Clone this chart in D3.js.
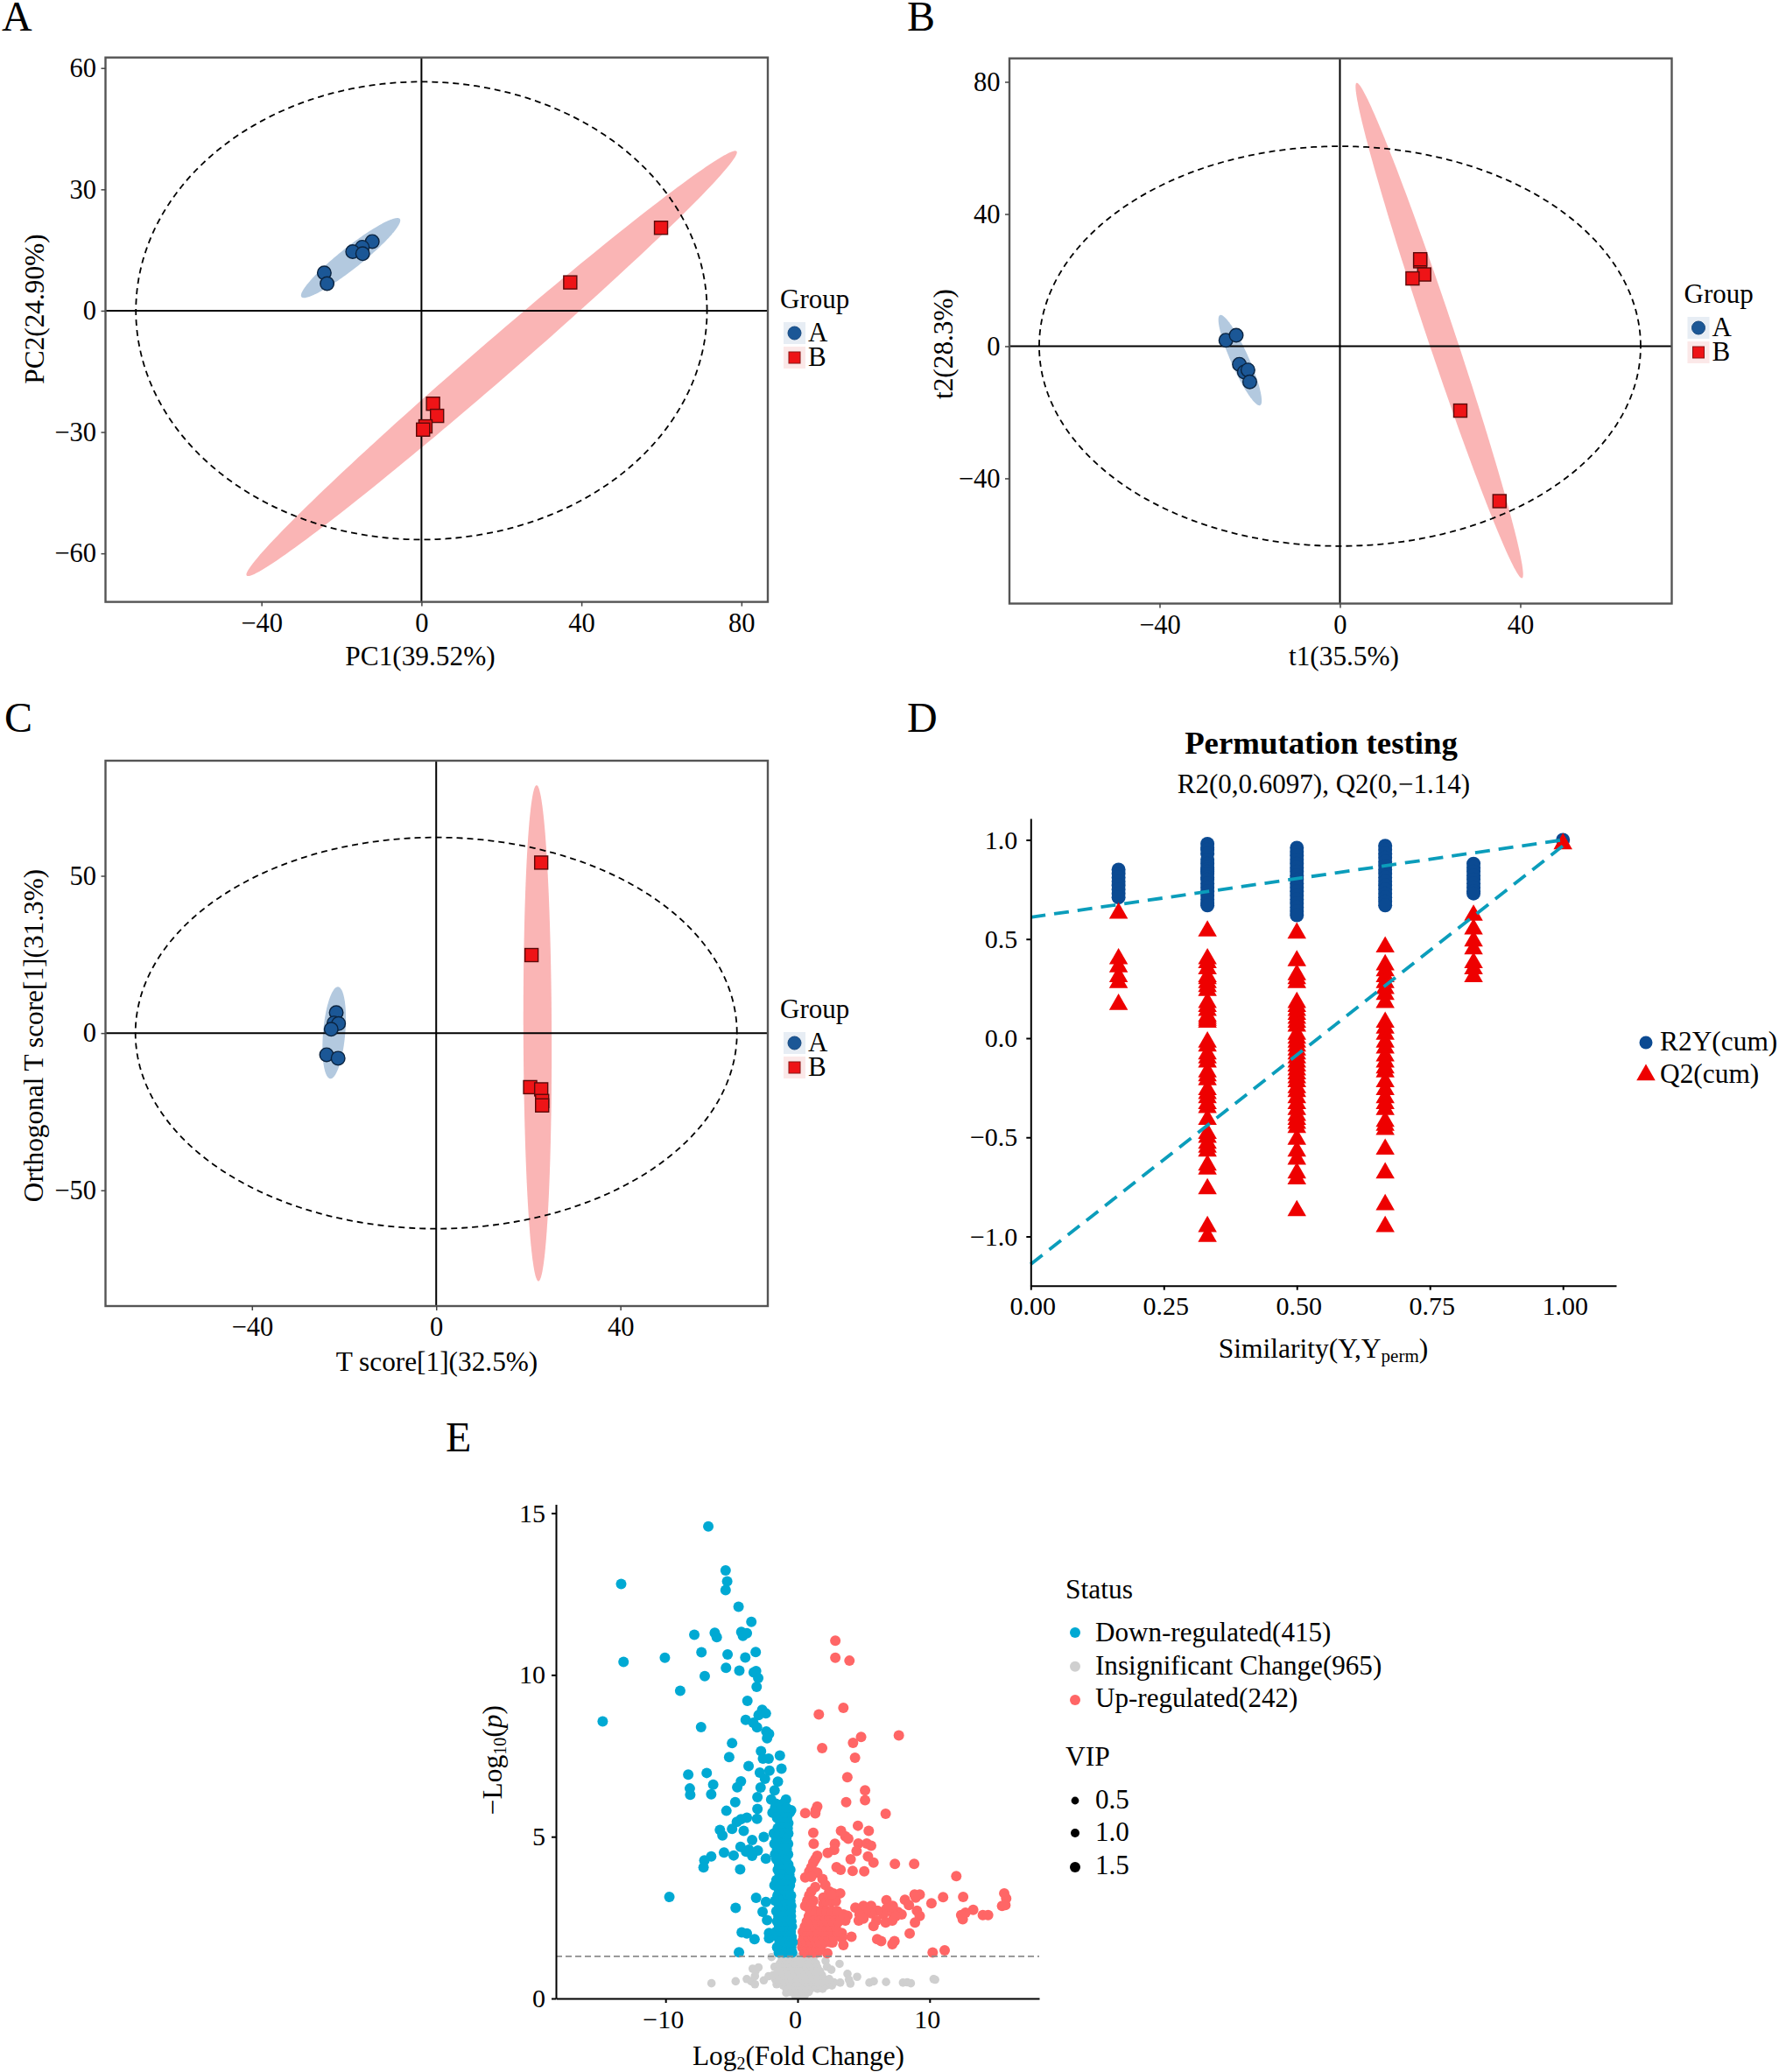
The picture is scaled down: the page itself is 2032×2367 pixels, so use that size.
<!DOCTYPE html>
<html><head><meta charset="utf-8">
<script src="https://cdn.jsdelivr.net/npm/d3@7"></script>
<style>
html,body{margin:0;padding:0;background:#fff}
svg{display:block}
text{font-family:"Liberation Serif","Times New Roman",serif;fill:#000}
</style></head><body>
<script>
// ---------- Panel A
const pcaA = [[-12.3,17.1],[-14.8,15.7],[-17.2,14.6],[-14.7,14.1],[-24.3,9.35],[-23.6,6.7]];
const pcaB = [[59.9,20.5],[37.2,7.0],[2.9,-23],[3.9,-26],[1.0,-28.6],[0.4,-29.4]];
const pcaEllA = [[-30,3.4],[-5.4,22.7]], pcaEllB = [[-43.7,-65.5],[78.8,39.4]];
const pcaHot = [71.4,56.6];
// ---------- Panel B
const plsA = [[-25.3,1.8],[-23,3.3],[-22.3,-5.5],[-21.2,-7.8],[-20.4,-7.2],[-20,-10.8]];
const plsB = [[17.8,25.7],[17.8,26.3],[18.7,21.7],[16.1,20.5],[26.7,-19.5],[35.4,-46.9]];
const plsEllA = [[-26.6,9.4],[-17.7,-17.9]], plsEllB = [[3.7,79.7],[40.4,-70.2]];
const plsHot = [66.7,60.5];
// ---------- Panel C
const oplsA = [[-21.7,6.5],[-22.2,3.2],[-21.2,3.0],[-22.8,1.2],[-23.8,-6.9],[-21.3,-8.0]];
const oplsB = [[22.8,54.2],[20.7,24.8],[20.4,-17.2],[22.8,-17.9],[23,-21.6],[23,-23]];
const oplsEllA = [[-21.3,14.7],[-23,-14.5]], oplsEllB = [[21.8,78.8],[22.2,-78.9]];
const oplsHot = [65.3,62.2];
// ---------- Panel D
const similarity = [.165,.332,.5,.666,.832,1];
const r2yValues = [
 [.85,.83,.81,.79,.77,.75,.73,.71],
 [.98,.96,.95,.93,.90,.88,.86,.85,.84,.83,.81,.80,.78,.76,.74,.72,.70,.68,.67],
 [.96,.94,.92,.90,.88,.86,.84,.82,.80,.78,.76,.74,.72,.70,.68,.66,.64,.62],
 [.97,.95,.93,.91,.89,.87,.85,.83,.81,.79,.77,.75,.73,.71,.69,.67],
 [.88,.86,.84,.82,.80,.78,.76,.74,.73],
 [1.0]];
const q2Values = [
 [.63,.40,.36,.31,.28,.17],
 [.54,.40,.38,.35,.31,.30,.28,.26,.24,.18,.16,.14,.11,.10,.09,.08,-.02,-.04,-.08,-.10,-.12,-.17,-.19,-.21,-.26,-.28,-.30,-.33,-.35,-.41,-.48,-.50,-.53,-.55,-.57,-.64,-.66,-.76,-.95,-1.0],
 [.53,.39,.32,.30,.28,.18,.16,.14,.12,.10,.08,.06,.02,0,-.02,-.04,-.06,-.08,-.10,-.12,-.14,-.16,-.18,-.20,-.22,-.25,-.27,-.30,-.33,-.36,-.39,-.41,-.43,-.45,-.51,-.57,-.61,-.68,-.71,-.87],
 [.46,.37,.34,.31,.28,.25,.22,.18,.08,.05,.02,-.02,-.05,-.09,-.12,-.15,-.17,-.22,-.26,-.30,-.33,-.36,-.42,-.44,-.46,-.56,-.68,-.84,-.95],
 [.62,.55,.49,.45,.38,.35,.31],
 [.98]];
const r2Line = [[0,.6097],[1,1]], q2Line = [[0,-1.14],[1,.97]];
// ---------- Panel E
const downPoints = [[-6.76,14.59],[-5.45,13.23],[-5.33,12.89],[-5.45,12.62],[-13.36,12.81],[-4.47,12.11],[-3.5,11.64],[-7.82,11.24],[-6.27,11.3],[-6.12,11.17],[-4.26,11.33],[-4.14,11.21],[-3.84,11.29],[-7.28,10.7],[-5.3,10.63],[-3.17,10.71],[-3.96,10.54],[-10.05,10.53],[-13.18,10.4],[-5.42,10.22],[-4.41,10.13],[-7.03,9.96],[-3.32,10.08],[-3.14,10.12],[-2.98,9.9],[-3.1,9.63],[-8.89,9.51],[-3.8,9.2],[-14.76,8.56],[-2.68,8.92],[-2.95,8.76],[-2.4,8.81],[-3.93,8.61],[-3.35,8.52],[-3.07,8.38],[-7.31,8.39],[-2.37,8.25],[-2.16,8.18],[-2.31,8.04],[-4.96,7.89],[-2.77,7.64],[-5.18,7.46],[-2.62,7.41],[-2.19,7.41],[-1.34,7.51],[-3.71,7.18],[-1.22,7.1],[-2.13,7.04],[-2.86,6.98],[-8.28,6.92],[-6.88,6.97],[-2.47,6.79],[-1.49,6.7],[-4.29,6.71],[-4.57,6.53],[-2.8,6.52],[-6.39,6.61],[-8.16,6.49],[-1.74,6.43],[-8.13,6.3],[-6.54,6.31],[-3.04,6.22],[-2.0,6.15],[-.88,6.15],[-4.72,6.07],[-1.64,6.02],[-1.10,6.02],[-3.04,5.86],[-5.39,5.8],[-.49,5.82],[-3.84,5.59],[-4.29,5.54],[-4.6,5.46],[-3.07,5.55],[-4.96,5.24],[-5.88,5.21],[-5.69,5.04],[-4.08,5.18],[-2.56,4.99],[-3.44,4.9],[-4.32,4.69],[-3.68,4.6],[-3.01,4.57],[-3.9,4.54],[-3.44,4.41],[-5.57,4.51],[-4.84,4.42],[-6.54,4.39],[-7.06,4.27],[-7.12,4.05],[-4.35,3.99],[-2.4,4.32],[-9.71,3.14],[-3.14,3.11],[-2.4,2.98],[-4.69,2.8],[-2.65,2.68],[-2.31,2.42],[-4.23,2.04],[-3.84,2.01],[-3.26,1.83],[-2.16,2.02],[-2.16,1.86],[-4.44,1.43],
 [-1.42,1.42],[-1.05,1.42],[-.72,1.42],[-.41,1.42],[-1.55,1.58],[-1.18,1.58],[-.85,1.58],[-.48,1.58],[-1.36,1.74],[-.98,1.74],[-.62,1.74],[-.38,1.74],[-1.5,1.9],[-1.12,1.9],[-.76,1.9],[-.45,1.9],[-1.62,2.06],[-1.25,2.06],[-.9,2.06],[-.52,2.06],[-1.4,2.22],[-1.02,2.22],[-.68,2.22],[-.43,2.22],[-1.55,2.38],[-1.15,2.38],[-.8,2.38],[-.47,2.38],[-1.45,2.54],[-1.08,2.54],[-.7,2.54],[-.5,2.54],[-1.6,2.7],[-1.2,2.7],[-.85,2.7],[-.52,2.7],[-1.38,2.86],[-1,2.86],[-.66,2.86],[-.48,2.86],[-1.7,3.02],[-1.28,3.02],[-.92,3.02],[-.55,3.02],[-1.52,3.18],[-1.12,3.18],[-.75,3.18],[-.5,3.18],[-1.4,3.34],[-1.02,3.34],[-.68,3.34],[-1.75,3.5],[-1.3,3.5],[-.9,3.5],[-.58,3.5],[-1.6,3.66],[-1.15,3.66],[-.78,3.66],[-.5,3.66],[-1.35,3.82],[-.98,3.82],[-.62,3.82],[-1.5,3.98],[-1.1,3.98],[-.72,3.98],[-.55,3.98],[-1.4,4.14],[-1.0,4.14],[-.7,4.14],[-1.6,4.3],[-1.22,4.3],[-.88,4.3],[-1.7,4.46],[-1.3,4.46],[-.95,4.46],[-.72,4.46],[-1.55,4.62],[-1.18,4.62],[-.82,4.62],[-1.75,4.78],[-1.35,4.78],[-1.0,4.78],[-.72,4.78],[-1.6,4.94],[-1.2,4.94],[-.85,4.94],[-1.8,5.1],[-1.4,5.1],[-1.02,5.1],[-.7,5.1],[-1.5,5.26],[-1.1,5.26],[-.75,5.26],[-1.3,5.42],[-.95,5.42],[-.7,5.42],[-1.55,5.58],[-1.15,5.58],[-.8,5.58],[-1.9,5.74],[-1.4,5.74],[-.95,5.74],[-.6,5.74],[-1.7,5.9],[-1.25,5.9],[-.85,5.9]];
const upPoints = [[2.86,11.06],[2.86,10.53],[3.93,10.44],[3.47,8.98],[1.61,8.78],[7.67,8.13],[4.81,8.08],[4.2,7.9],[1.86,7.74],[4.35,7.44],[3.77,6.84],[5.11,6.43],[5.11,6.13],[3.68,6.07],[1.49,5.93],[1.37,5.82],[.58,5.73],[1.34,5.72],[6.67,5.71],[4.57,5.34],[3.29,5.18],[5.39,5.18],[1.19,5.12],[3.62,5.01],[3.84,4.94],[1.22,4.78],[4.6,4.79],[5.24,4.79],[5.57,4.72],[2.83,4.78],[2.77,4.59],[2.28,4.5],[4.47,4.56],[5.33,4.39],[4.02,4.3],[5.75,4.2],[7.37,4.16],[8.83,4.16],[2.95,4.06],[3.26,3.98],[4.17,3.94],[5.05,3.93],[12.02,3.78],
 [1.49,4.41],[1.34,4.3],[1.19,4.2],[1.04,4.05],[.88,3.92],[1.19,3.89],[1.49,3.89],[.58,3.74],[1.04,3.76],[1.89,3.69],[2.1,3.51],[1.34,3.44],[1.04,3.31],[.88,3.18],[2.4,3.31],[2.71,3.25],[2.25,3.12],[3.23,3.25],[1.95,3.12],[.73,3.02],[1.19,3.02],[1.95,2.93],[2.56,2.99],[.58,2.86],[1.04,2.86],
 [8.86,3.21],[9.25,3.21],[8.95,3.12],[11.02,3.13],[12.54,3.14],[15.65,3.25],[15.8,3.09],[15.49,2.86],[15.74,2.89],[10.14,2.94],[6.73,3.04],[8.13,3.05],[8.43,2.89],[7.21,2.86],[6.73,2.77],[5.57,2.86],[4.99,2.86],[4.38,2.81],[4.87,2.73],[13.3,2.74],[12.72,2.65],[12.39,2.58],[12.51,2.45],[14.03,2.58],[14.43,2.58],[9.04,2.71],[9.25,2.55],[8.89,2.35],[8.49,2.01],[7.61,2.67],[7.88,2.6],[7.28,2.6],[6.51,2.6],[6.06,2.71],[5.6,2.63],[5.14,2.67],[4.69,2.6],[4.63,2.41],[4.99,2.47],[5.97,2.41],[5.75,2.24],[6.67,2.35],[7.18,2.41],[7.43,2.54],[6.03,1.83],[6.33,1.77],[7.34,1.77],[7.18,1.68],[4.08,1.91],[3.35,2.02],[3.35,1.87],[3.47,1.65],[3.77,2.56],[3.47,2.6],[3.17,2.47],[3.62,2.41],[2.65,1.73],[2.25,1.4],[10.23,1.42],[11.14,1.49],
 [.5,1.42],[.85,1.42],[1.2,1.42],[1.5,1.42],[.35,1.58],[.7,1.58],[1.05,1.58],[1.4,1.58],[1.75,1.58],[.3,1.74],[.65,1.74],[1,1.74],[1.35,1.74],[1.7,1.74],[2.1,1.74],[2.5,1.74],[.45,1.9],[.8,1.9],[1.15,1.9],[1.5,1.9],[1.9,1.9],[2.3,1.9],[2.75,1.9],[.4,2.06],[.75,2.06],[1.1,2.06],[1.5,2.06],[1.85,2.06],[2.2,2.06],[2.6,2.06],[3.0,2.06],[.55,2.22],[.9,2.22],[1.3,2.22],[1.7,2.22],[2.1,2.22],[2.5,2.22],[2.9,2.22],[.7,2.38],[1.05,2.38],[1.45,2.38],[1.85,2.38],[2.25,2.38],[2.65,2.38],[3.1,2.38],[.85,2.54],[1.25,2.54],[1.65,2.54],[2.05,2.54],[2.4,2.54],[2.8,2.54],[3.2,2.54],[.95,2.7],[1.4,2.7],[1.8,2.7],[2.2,2.7],[2.6,2.7],[3.0,2.7],[2.2,3.0],[2.5,3.0],[2.9,3.0],[2.35,3.2],[2.6,3.2]];
const neutralPoints = [[-6.52,.47],[-4.69,.53],[-3.85,.6],[-3.51,.53],[-3.23,.44],[-3.23,.69],[-3.4,.92],[-2.96,.96],[-3.18,.85],[-2.56,.56],[-2.19,.69],[-1.97,1.28],[-1.75,.98],[3.18,1.07],[2.12,1.16],[2.23,.98],[2.56,.89],[3.78,.76],[4.51,.67],[3.89,.58],[4.0,.46],[3.23,.49],[5.44,.49],[5.77,.53],[6.7,.51],[7.98,.49],[8.31,.5],[8.58,.47],[10.3,.6],[10.42,.58],[-1.59,.44],[-.86,.17],
 [-.2,.1],[.2,.1],[.55,.1],[-.6,.2],[-.25,.2],[.1,.2],[.45,.2],[.85,.2],[-.85,.3],[-.5,.3],[-.15,.3],[.2,.3],[.6,.3],[1.0,.3],[1.5,.3],[1.9,.3],[-1.1,.4],[-.7,.4],[-.3,.4],[.1,.4],[.5,.4],[.9,.4],[1.3,.4],[1.75,.4],[2.2,.4],[2.6,.4],[-1.4,.5],[-1.0,.5],[-.6,.5],[-.2,.5],[.2,.5],[.6,.5],[1.0,.5],[1.4,.5],[1.85,.5],[2.3,.5],[2.75,.5],[-1.7,.6],[-1.3,.6],[-.85,.6],[-.45,.6],[-.05,.6],[.35,.6],[.8,.6],[1.2,.6],[1.6,.6],[2.0,.6],[2.4,.6],[-1.85,.72],[-1.4,.72],[-1,.72],[-.6,.72],[-.2,.72],[.25,.72],[.65,.72],[1.05,.72],[1.45,.72],[1.85,.72],[-1.5,.84],[-1.1,.84],[-.7,.84],[-.3,.84],[.1,.84],[.5,.84],[.9,.84],[1.3,.84],[1.7,.84],[-1.3,.96],[-.9,.96],[-.5,.96],[-.1,.96],[.3,.96],[.7,.96],[1.1,.96],[1.5,.96],[-1.35,1.08],[-1,1.08],[-.6,1.08],[-.2,1.08],[.2,1.08],[.6,1.08],[1.0,1.08],[1.4,1.08],[-1.2,1.2],[-.8,1.2],[-.4,1.2],[0,1.2],[.4,1.2],[.8,1.2],[1.2,1.2],[-1.1,1.28],[-.7,1.28],[-.3,1.28],[.1,1.28],[.5,1.28],[.9,1.28]];
const statusLabels = ["Down-regulated(415)","Insignificant Change(965)","Up-regulated(242)"];
const vipLabels = ["0.5","1.0","1.5"];
const pThreshold = 1.3;
const groupNames = ["A","B"];

const C = {ptA:"#1B5796",ptB:"#EE1417",ellA:"#B3C9DF",ellB:"#FAB5B5",keyA:"#E7EDF4",keyB:"#FBE8E8",
           r2:"#0B4A92",q2:"#EE0000",teal:"#0B9DBB",down:"#00A9D3",up:"#FF6666",ns:"#CFCFCF"};

const svg = d3.select("body").append("svg").attr("width",2032).attr("height",2367);

function letter(t,x,y){svg.append("text").attr("x",x).attr("y",y).attr("font-size",48).text(t);}
letter("A",2,35);letter("B",1036,35);letter("C",5,836);letter("D",1036,836);letter("E",509,1658);

function styleAxis(g,fs){
  g.selectAll("text").attr("font-size",fs).attr("font-family",'"Liberation Serif",serif').attr("fill","#000");
}

function scorePanel(o){
  const x=d3.scaleLinear().domain(o.xd).range([o.l,o.r]);
  const y=d3.scaleLinear().domain(o.yd).range([o.b,o.t]);
  const g=svg.append("g");
  const line=d3.line();
  function ellipse(ends,ratio,fill){
    const p1=[x(ends[0][0]),y(ends[0][1])],p2=[x(ends[1][0]),y(ends[1][1])];
    const m=[(p1[0]+p2[0])/2,(p1[1]+p2[1])/2],u=[(p2[0]-p1[0])/2,(p2[1]-p1[1])/2],v=[-u[1]*ratio,u[0]*ratio];
    const pts=d3.range(0,360,2).map(a=>{const t=a*Math.PI/180;return [m[0]+u[0]*Math.cos(t)+v[0]*Math.sin(t),m[1]+u[1]*Math.cos(t)+v[1]*Math.sin(t)];});
    g.append("path").attr("d",line(pts)+"Z").attr("fill",fill);
  }
  ellipse(o.ellA,o.ra,C.ellA);ellipse(o.ellB,o.rb,C.ellB);
  g.append("line").attr("x1",x(0)).attr("x2",x(0)).attr("y1",o.t).attr("y2",o.b).attr("stroke","#000").attr("stroke-width",2);
  g.append("line").attr("x1",o.l).attr("x2",o.r).attr("y1",y(0)).attr("y2",y(0)).attr("stroke","#000").attr("stroke-width",2);
  const hp=d3.range(0,360,1).map(a=>{const t=a*Math.PI/180;return [x(o.hot[0]*Math.cos(t)),y(o.hot[1]*Math.sin(t))];});
  g.append("path").attr("d",line(hp)+"Z").attr("fill","none").attr("stroke","#000").attr("stroke-width",1.8).attr("stroke-dasharray","7,5");
  g.selectAll(null).data(o.a).join("circle").attr("cx",d=>x(d[0])).attr("cy",d=>y(d[1])).attr("r",7.8)
    .attr("fill",C.ptA).attr("stroke","#0b2440").attr("stroke-width",1.4);
  g.selectAll(null).data(o.bPts).join("rect").attr("x",d=>x(d[0])-7.5).attr("y",d=>y(d[1])-7.5).attr("width",15).attr("height",15)
    .attr("fill",C.ptB).attr("stroke","#5a0a0a").attr("stroke-width",1.4);
  g.append("rect").attr("x",o.l).attr("y",o.t).attr("width",o.r-o.l).attr("height",o.b-o.t).attr("fill","none").attr("stroke","#555").attr("stroke-width",2.4);
  const ax=svg.append("g").attr("transform",`translate(0,${o.b})`).call(d3.axisBottom(x).tickValues(o.xt).tickFormat(d3.format("d")).tickSize(5).tickPadding(7.5).tickSizeOuter(0));
  ax.select(".domain").remove();ax.selectAll("line").attr("stroke","#444").attr("stroke-width",1.5);styleAxis(ax,30.5);
  const ay=svg.append("g").attr("transform",`translate(${o.l},0)`).call(d3.axisLeft(y).tickValues(o.yt).tickFormat(d3.format("d")).tickSize(5).tickPadding(5.5).tickSizeOuter(0));
  ay.select(".domain").remove();ay.selectAll("line").attr("stroke","#444").attr("stroke-width",1.5);styleAxis(ay,30.5);
  svg.append("text").attr("x",o.xtx).attr("y",o.xty).attr("text-anchor","middle").attr("font-size",31.3).text(o.xlab);
  svg.append("text").attr("transform",`translate(${o.ytx},${o.yty}) rotate(-90)`).attr("text-anchor","middle").attr("font-size",31.3).text(o.ylab);
  const lx=o.r+18;
  svg.append("text").attr("x",lx-4).attr("y",o.lgY).attr("font-size",31).text("Group");
  [0,1].forEach(i=>{
    const ky=o.lgY+16+i*28;
    svg.append("rect").attr("x",lx).attr("y",ky).attr("width",25).attr("height",25).attr("fill",i?C.keyB:C.keyA);
    if(i) svg.append("rect").attr("x",lx+6).attr("y",ky+6).attr("width",13).attr("height",13).attr("fill",C.ptB).attr("stroke","#8a1414").attr("stroke-width",1);
    else svg.append("circle").attr("cx",lx+12.5).attr("cy",ky+12.5).attr("r",7.5).attr("fill",C.ptA).attr("stroke","#174a80").attr("stroke-width",1);
    svg.append("text").attr("x",lx+28).attr("y",ky+22).attr("font-size",31).text(groupNames[i]);
  });
}

scorePanel({l:120.5,r:877,t:65.7,b:687.6,xd:[-79,86.6],yd:[-72,62.6],xt:[-40,0,40,80],yt:[-60,-30,0,30,60],
  a:pcaA,bPts:pcaB,ellA:pcaEllA,ellB:pcaEllB,ra:.17,rb:.058,hot:pcaHot,
  xlab:"PC1(39.52%)",ylab:"PC2(24.90%)",xtx:480,xty:760,ytx:50,yty:353,lgY:352});
scorePanel({l:1153,r:1909.5,t:66.7,b:689.5,xd:[-73.3,73.6],yd:[-77.9,87.1],xt:[-40,0,40],yt:[-40,0,40,80],
  a:plsA,bPts:plsB,ellA:plsEllA,ellB:plsEllB,ra:.18,rb:.053,hot:plsHot,
  xlab:"t1(35.5%)",ylab:"t2(28.3%)",xtx:1535,xty:760,ytx:1088,yty:393,lgY:346});
scorePanel({l:120.5,r:877,t:869,b:1492,xd:[-71.8,72],yd:[-86.8,86.6],xt:[-40,0,40],yt:[-50,0,50],
  a:oplsA,bPts:oplsB,ellA:oplsEllA,ellB:oplsEllB,ra:.24,rb:.057,hot:oplsHot,
  xlab:"T score[1](32.5%)",ylab:"Orthogonal T score[1](31.3%)",xtx:499,xty:1566,ytx:48.5,yty:1183,lgY:1163});

// ---------- Panel D
(function(){
  const l=1177.3,r=1846,t=935,b=1468.7;
  const x=d3.scaleLinear().domain([0,1.1]).range([l,r]);
  const y=d3.scaleLinear().domain([-1.248,1.108]).range([b,t]);
  const tri=d3.symbol().type(d3.symbolTriangle).size(200);
  similarity.forEach((s,i)=>{
    svg.selectAll(null).data(r2yValues[i]).join("circle").attr("class","r2").attr("cx",x(s)).attr("cy",d=>y(d)).attr("r",8).attr("fill",C.r2);
  });
  similarity.forEach((s,i)=>{
    svg.selectAll(null).data(q2Values[i]).join("path").attr("class","q2").attr("d",tri).attr("transform",d=>`translate(${x(s)},${y(d)})`).attr("fill",C.q2);
  });
  const ln=d3.line().x(d=>x(d[0])).y(d=>y(d[1]));
  [r2Line,q2Line].forEach(L=>svg.append("path").attr("d",ln(L)).attr("fill","none").attr("stroke",C.teal).attr("stroke-width",3.8).attr("stroke-dasharray","17,10"));
  const ax=svg.append("g").attr("transform",`translate(0,${b})`).call(d3.axisBottom(x).tickValues([0,.25,.5,.75,1]).tickFormat(d3.format(".2f")).tickSize(5).tickPadding(7).tickSizeOuter(0));
  ax.selectAll("path,line").attr("stroke","#000").attr("stroke-width",2);styleAxis(ax,30);
  ax.selectAll("text").attr("dx",2);
  const ay=svg.append("g").attr("transform",`translate(${l},0)`).call(d3.axisLeft(y).tickValues([-1,-.5,0,.5,1]).tickFormat(d3.format(".1f")).tickSize(5).tickPadding(10).tickSizeOuter(0));
  ay.selectAll("path,line").attr("stroke","#000").attr("stroke-width",2);styleAxis(ay,30);
  svg.append("text").attr("x",1509).attr("y",861).attr("text-anchor","middle").attr("font-size",36.8).attr("font-weight","bold").text("Permutation testing");
  svg.append("text").attr("x",1512).attr("y",906).attr("text-anchor","middle").attr("font-size",31).text("R2(0,0.6097), Q2(0,\u22121.14)");
  const xt=svg.append("text").attr("x",1511.5).attr("y",1551).attr("text-anchor","middle").attr("font-size",31.5);
  xt.append("tspan").text("Similarity(Y,Y");
  xt.append("tspan").attr("font-size",21).attr("dy",5).text("perm");
  xt.append("tspan").attr("dy",-5).text(")");
  svg.append("circle").attr("cx",1880).attr("cy",1191).attr("r",7.5).attr("fill",C.r2);
  svg.append("path").attr("d",tri).attr("transform","translate(1880,1228)").attr("fill",C.q2);
  svg.append("text").attr("x",1896).attr("y",1200).attr("font-size",31.4).text("R2Y(cum)");
  svg.append("text").attr("x",1896).attr("y",1237).attr("font-size",31.4).text("Q2(cum)");
})();

// ---------- Panel E
(function(){
  const l=635,r=1187,t=1718.6,b=2283;
  const x=d3.scaleLinear().domain([-18.3,18.3]).range([l,r]);
  const y=d3.scaleLinear().domain([0,15.27]).range([b,t]);
  const draw=(data,fill,rad)=>svg.selectAll(null).data(data).join("circle").attr("cx",d=>x(d[0])).attr("cy",d=>y(d[1])).attr("r",rad).attr("fill",fill);
  draw(neutralPoints,C.ns,4.8);
  draw(upPoints,C.up,6);
  draw(downPoints,C.down,6);
  svg.append("line").attr("x1",l).attr("x2",r).attr("y1",y(pThreshold)).attr("y2",y(pThreshold)).attr("stroke","#8c8c8c").attr("stroke-width",1.8).attr("stroke-dasharray","7,4");
  const ax=svg.append("g").attr("transform",`translate(0,${b})`).call(d3.axisBottom(x).tickValues([-10,0,10]).tickFormat(d3.format("d")).tickSize(5).tickPadding(8).tickSizeOuter(0));
  ax.selectAll("path,line").attr("stroke","#000").attr("stroke-width",2);styleAxis(ax,30);
  ax.selectAll("text").attr("dx",-3);
  const ay=svg.append("g").attr("transform",`translate(${l},0)`).call(d3.axisLeft(y).tickValues([0,5,10,15]).tickFormat(d3.format("d")).tickSize(5).tickPadding(7).tickSizeOuter(0));
  ay.selectAll("path,line").attr("stroke","#000").attr("stroke-width",2);styleAxis(ay,30);
  const xt=svg.append("text").attr("x",912).attr("y",2359).attr("text-anchor","middle").attr("font-size",31.3);
  xt.append("tspan").text("Log");
  xt.append("tspan").attr("font-size",20).attr("dy",5).text("2");
  xt.append("tspan").attr("dy",-5).text("(Fold Change)");
  const yt=svg.append("text").attr("transform","translate(573,2010.7) rotate(-90)").attr("text-anchor","middle").attr("font-size",31.5);
  yt.append("tspan").text("\u2212Log");
  yt.append("tspan").attr("font-size",20).attr("dy",5).text("10");
  yt.append("tspan").attr("dy",-5).text("(");
  yt.append("tspan").attr("font-style","italic").text("p");
  yt.append("tspan").text(")");
  const lg=svg.append("g");
  lg.append("text").attr("x",1217).attr("y",1826).attr("font-size",31.5).text("Status");
  const sy=[1865,1903.7,1942],sb=[1875,1913,1950],sc=[C.down,C.ns,C.up];
  statusLabels.forEach((s,i)=>{
    lg.append("circle").attr("cx",1228).attr("cy",sy[i]).attr("r",6).attr("fill",sc[i]);
    lg.append("text").attr("x",1251).attr("y",sb[i]).attr("font-size",31.1).text(s);
  });
  lg.append("text").attr("x",1217).attr("y",2017).attr("font-size",31.5).text("VIP");
  const vy=[2057,2094,2133],vb=[2066,2103,2141],vr=[4.4,5,6];
  vipLabels.forEach((s,i)=>{
    lg.append("circle").attr("cx",1228).attr("cy",vy[i]).attr("r",vr[i]).attr("fill","#000");
    lg.append("text").attr("x",1251).attr("y",vb[i]).attr("font-size",31.1).text(s);
  });
})();
</script>
</body></html>
